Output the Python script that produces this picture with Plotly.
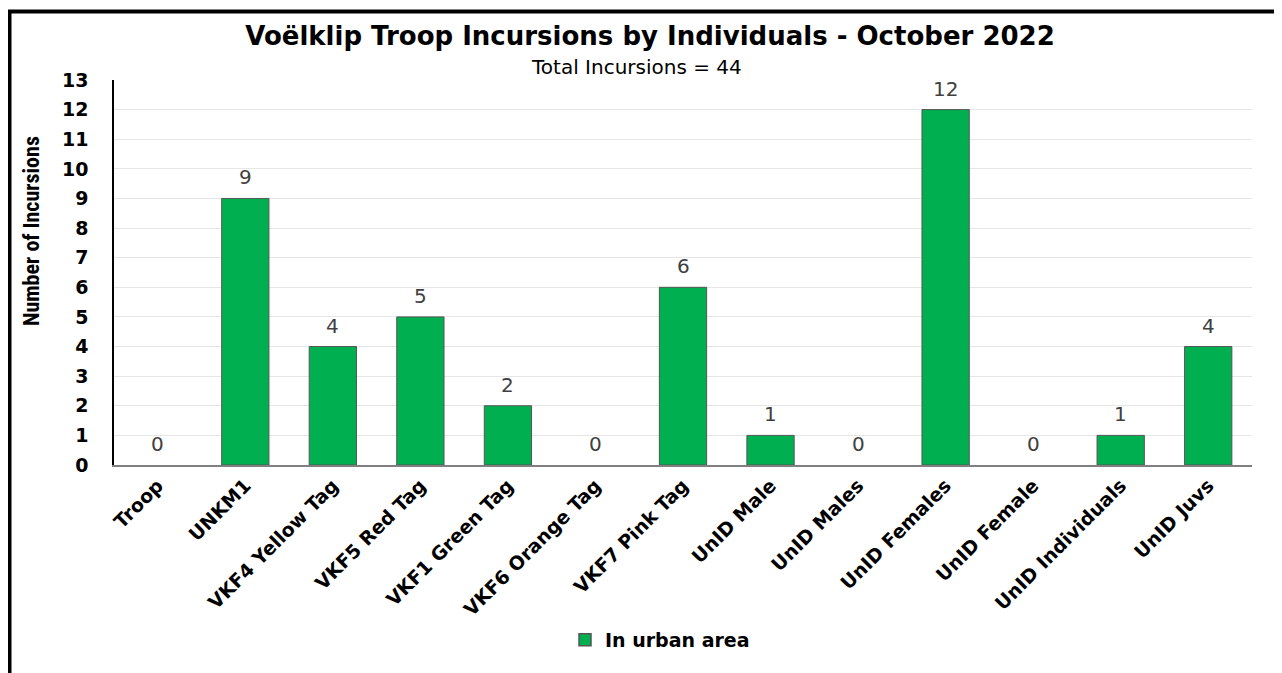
import plotly.graph_objects as go

categories = ["Troop", "UNKM1", "VKF4 Yellow Tag", "VKF5 Red Tag", "VKF1 Green Tag",
              "VKF6 Orange Tag", "VKF7 Pink Tag", "UnID Male", "UnID Males",
              "UnID Females", "UnID Female", "UnID Individuals", "UnID Juvs"]
incursions = [0, 9, 4, 5, 2, 0, 6, 1, 0, 12, 0, 1, 4]
series_name = "In urban area"
title_text = "Voëlklip Troop Incursions by Individuals - October 2022"
subtitle_text = "Total Incursions = 44"
y_title = "Number of Incursions"
y_ticks = list(range(0, 14))

OFF = 8  # page body margin offset
W, H = 1282, 673
# target screen positions of the plot area
SL, SR, ST, SB = 114, 1252, 80, 465
L = SL - OFF
T = ST - OFF
R = W - (SR - OFF)
B = H - (SB - OFF)
pw, ph = W - L - R, H - T - B

def px_x(px):
    return (px - SL) / pw

def px_y(py):
    return (SB - py) / ph

GREEN = "#00B050"
EDGE = "#555555"

fig = go.Figure()
fig.add_trace(go.Bar(
    x=categories, y=incursions, name=series_name, showlegend=False,
    marker=dict(color=GREEN,
                line=dict(color=EDGE, width=[0 if v == 0 else 1 for v in incursions])),
))
# legend entry only
fig.add_trace(go.Bar(
    x=[categories[0]], y=[None], name=series_name, showlegend=True,
    marker=dict(color=GREEN, line=dict(color=EDGE, width=1.5)),
))

for c, v in zip(categories, incursions):
    fig.add_annotation(x=c, y=v, text=str(v), showarrow=False, xref="x", yref="y",
                       yanchor="bottom", yshift=7,
                       font=dict(family="DejaVu Sans", size=20, color="#404040"))

fig.update_layout(
    width=W, height=H,
    margin=dict(l=L, r=R, t=T, b=B),
    paper_bgcolor="white", plot_bgcolor="white",
    bargap=0.46, barmode="overlay",
    showlegend=True,
    legend=dict(orientation="h", x=px_x(660), xanchor="center", y=px_y(640), yanchor="middle",
                font=dict(family="DejaVu Sans", size=19, color="black", weight="bold"),
                itemwidth=30),
    title=dict(text="<b>" + title_text + "</b>", x=px_x(650), xanchor="center", xref="paper",
               y=1 - (36 - OFF) / H, yanchor="middle", yref="container",
               font=dict(family="DejaVu Sans", size=26, color="black")),
)

fig.update_xaxes(
    tickangle=-45, showline=True, linecolor="#808080", linewidth=2,
    tickfont=dict(family="DejaVu Sans", size=19, color="black", weight="bold"),
    ticks="", showgrid=False,
)
fig.update_yaxes(
    range=[0, 13], tickvals=y_ticks, showline=True, linecolor="black", linewidth=1.5,
    gridcolor="#E6E6E6", gridwidth=1, zeroline=False,
    tickfont=dict(family="DejaVu Sans", size=19, color="black", weight="bold"),
    ticklabelstandoff=20, ticks="",
)

fig.add_annotation(text=subtitle_text, xref="paper", yref="paper", x=px_x(636), y=px_y(67),
                   showarrow=False, font=dict(family="DejaVu Sans", size=20, color="black"),
                   xanchor="center", yanchor="middle")
fig.add_annotation(text="<b>" + y_title + "</b>", xref="paper", yref="paper", x=px_x(31), y=px_y(231),
                   showarrow=False, textangle=-90,
                   font=dict(family="Liberation Sans Narrow, Roboto Condensed, Arial Narrow", size=22, color="black"),
                   xanchor="center", yanchor="middle")

# outer frame
fig.add_shape(type="rect", xref="paper", yref="paper",
              x0=px_x(9.5), x1=px_x(1279.5), y0=px_y(690), y1=px_y(11.5),
              line=dict(color="black", width=4), fillcolor="rgba(0,0,0,0)", layer="above")

fig.write_html("out.html")
